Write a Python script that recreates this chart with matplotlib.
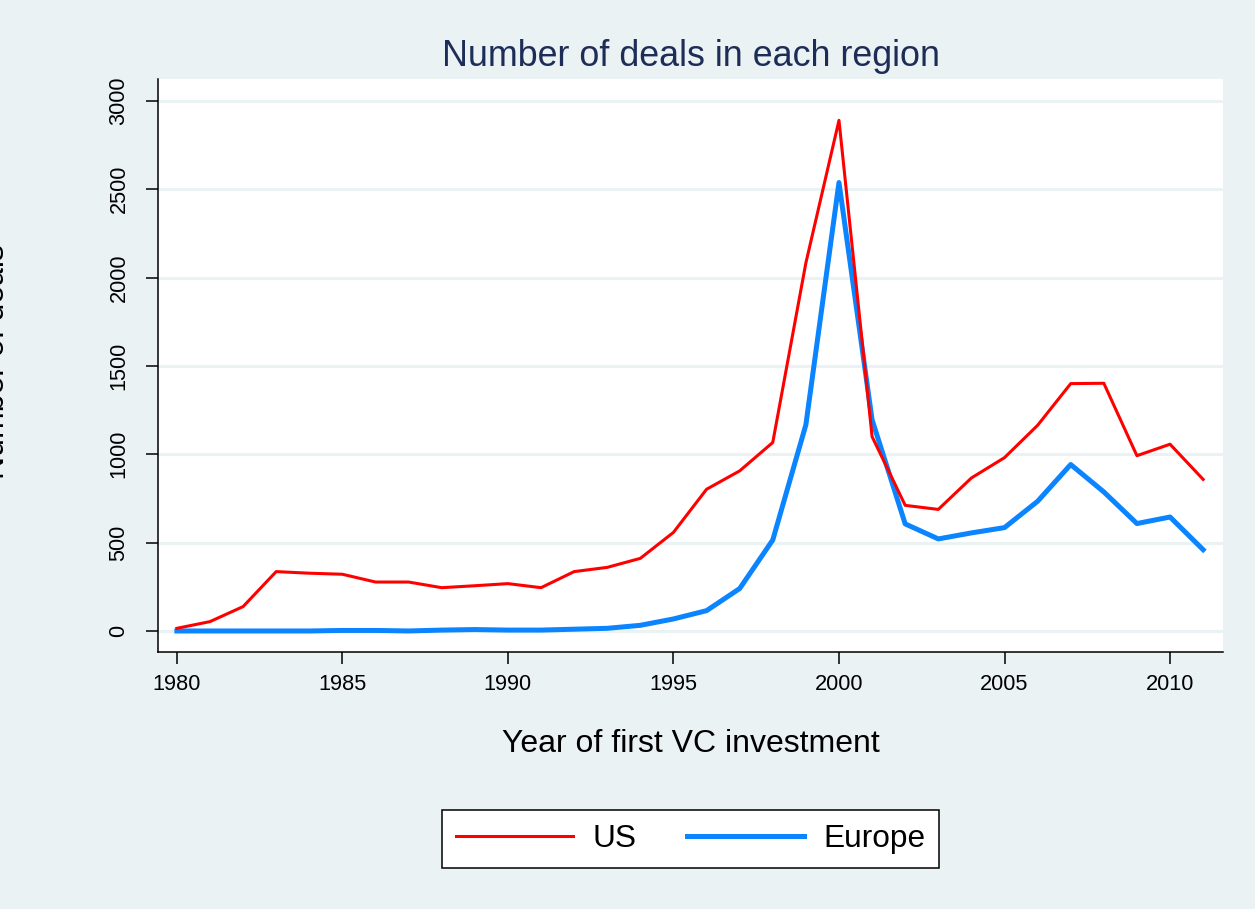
import matplotlib
matplotlib.use("Agg")
import matplotlib.pyplot as plt
import numpy as np

# Deals by year of first VC investment
years = list(range(1980, 2012))
us_deals = [15, 53, 138, 336, 327, 321, 277, 277, 245, 256, 268, 245, 336, 360, 411,
            558, 802, 906, 1067, 2083, 2890, 1100, 711, 688, 866, 981, 1164, 1400, 1402,
            992, 1057, 858]
europe_deals = [0, 0, 0, 0, 0, 3, 3, 0, 5, 8, 5, 5, 10, 15, 32,
                68, 115, 240, 515, 1167, 2538, 1195, 606, 521, 555, 585, 734, 942, 787,
                608, 645, 460]
y_ticks = [0, 500, 1000, 1500, 2000, 2500, 3000]
x_ticks = [1980, 1985, 1990, 1995, 2000, 2005, 2010]

BG = '#eaf2f3'
W, H = 1255, 909

plt.rcParams['font.family'] = ['Liberation Sans', 'DejaVu Sans']

fig = plt.figure(figsize=(W / 100, H / 100), dpi=100, facecolor=BG)
ax = fig.add_axes([158 / W, 1 - 652 / H, (1223 - 158) / W, (652 - 79) / H])
ax.set_facecolor('white')

# Europe first so US sits on top where they cross
l_eu, = ax.plot(years, europe_deals, color='#0a84ff', linewidth=3.6, label='Europe', zorder=3)
l_us, = ax.plot(years, us_deals, color='#ff0000', linewidth=2.2, label='US', zorder=4)

ax.set_xlim(1979.43, 2011.6)
ax.set_ylim(-119, 3124)
ax.set_xticks(x_ticks)
ax.set_yticks(y_ticks)
ax.grid(axis='y', color=BG, linewidth=2.2)
ax.set_axisbelow(True)

for side in ['top', 'right']:
    ax.spines[side].set_visible(False)
for side in ['left', 'bottom']:
    ax.spines[side].set_linewidth(1.1)

ax.tick_params(axis='both', direction='out', length=8.6, width=1.1, labelsize=15.7)
ax.tick_params(axis='x', pad=7)
ax.tick_params(axis='y', pad=12, labelrotation=90)
for lab in ax.get_yticklabels():
    lab.set_va('center')

# titles and labels placed in figure pixels
fig.text(690.5 / W, 1 - 66 / H, 'Number of deals in each region', ha='center',
         va='baseline', fontsize=25.8, color='#1e2d57')
fig.text(690.5 / W, 1 - 752 / H, 'Year of first VC investment', ha='center',
         va='baseline', fontsize=23)
# y title is partly off the left edge, as in the original
fig.text(11 / W, 1 - 362 / H, 'Number of deals', ha='right', va='center',
         rotation=90, fontsize=23)

leg = fig.legend([l_us, l_eu], ['US', 'Europe'], loc='center', ncol=2,
                 bbox_to_anchor=(690.5 / W, 1 - 839 / H), fontsize=22.8,
                 frameon=True, fancybox=False, framealpha=1, edgecolor='black',
                 handlelength=3.7, handletextpad=0.6, columnspacing=1.6,
                 borderpad=0.45)
leg.get_frame().set_linewidth(1.1)

fig.savefig('out.png', dpi=100, facecolor=BG)
